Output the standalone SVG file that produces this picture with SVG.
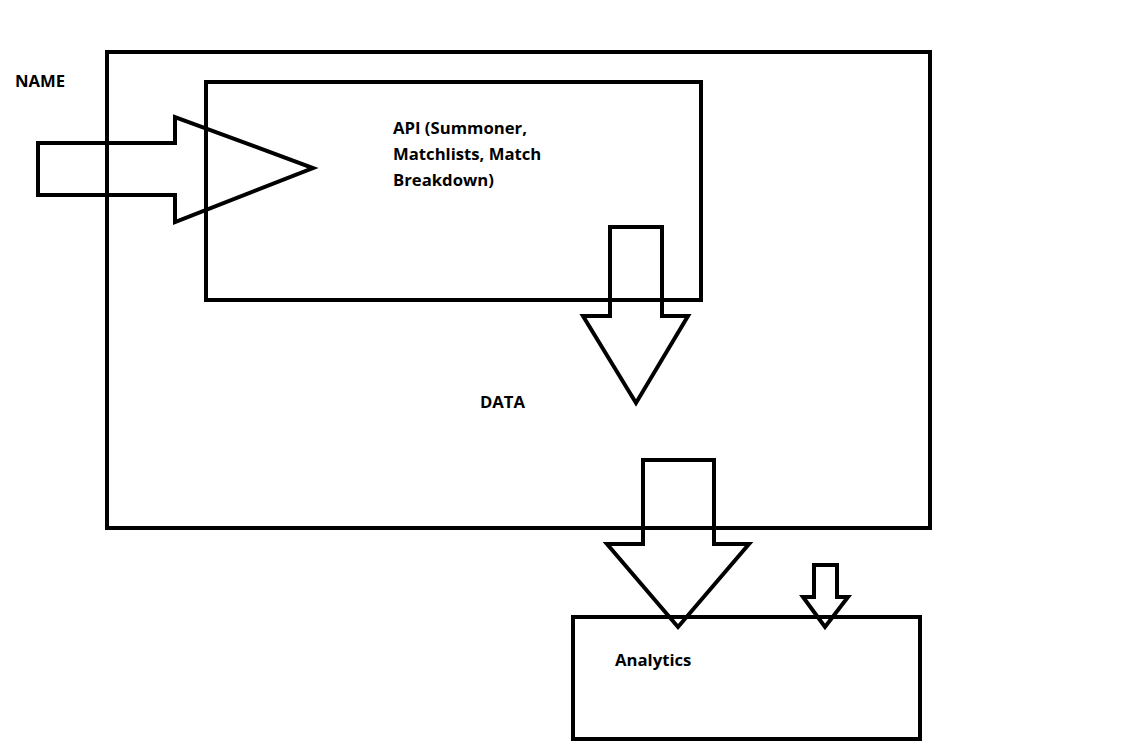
<svg xmlns="http://www.w3.org/2000/svg" width="1131" height="754" viewBox="0 0 1131 754">
<style>
.box{fill:none;stroke:#000;stroke-width:4}
.arr{fill:none;stroke:#000;stroke-width:4;stroke-linejoin:miter}
.lbl{font-family:"Open Sans","Noto Sans",sans-serif;font-weight:bold;font-size:16.7px;fill:#000}
</style>
<rect width="1131" height="754" fill="#fff"/>
<g id="name"><text class="lbl" x="15" y="87">NAME</text></g>
<g id="data"><rect class="box" x="107" y="52" width="823" height="476"/><text class="lbl" x="480" y="408">DATA</text></g>
<g id="api"><rect class="box" x="206" y="82" width="495" height="218"/>
<text class="lbl" x="393" y="134">API (Summoner,</text>
<text class="lbl" x="393" y="160">Matchlists, Match</text>
<text class="lbl" x="393" y="186">Breakdown)</text></g>
<g id="analytics"><rect class="box" x="573" y="617" width="347" height="122"/><text class="lbl" x="615" y="666">Analytics</text></g>
<g id="connectors">
<polygon class="arr" points="38,143 175,143 175,117 313,168 175,222 175,195 38,195"/>
<polygon class="arr" points="610,227 662,227 662,316 688,316 636,403 583,316 610,316"/>
<polygon class="arr" points="643,460 714,460 714,544 749,544 678,627 607,544 643,544"/>
<polygon class="arr" points="814,565 837,565 837,597 848,597 825,627 803,597 814,597"/>
</g>
</svg>
